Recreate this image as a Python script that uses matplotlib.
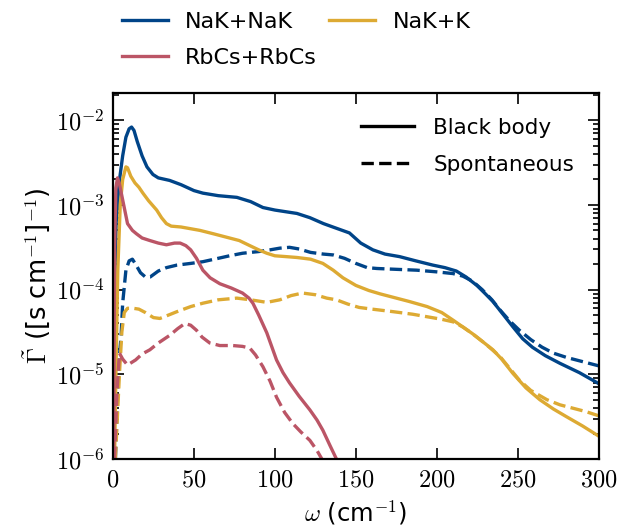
import matplotlib
matplotlib.use('Agg')
import matplotlib.pyplot as plt
import numpy as np
from matplotlib.lines import Line2D
from matplotlib.ticker import FuncFormatter, LogLocator, MultipleLocator

plt.rcParams['font.family'] = ['DejaVu Sans']
plt.rcParams['mathtext.fontset'] = 'cm'
plt.rcParams['font.size'] = 16

# ---- data (omega in cm^-1, log10 of rate) ----
nak_bb_w = [1, 2, 4, 6, 8, 10, 11.5, 13, 15, 18, 21, 24.7, 28, 35, 42, 50, 55.5, 65, 76.5, 85,
            92.6, 100, 113.6, 121.6, 130, 135.8, 146, 153, 160.5, 168, 177, 187, 197.5, 205, 212,
            218, 224.7, 230, 234.6, 240, 247, 253, 259, 267, 276, 288, 300]
nak_bb_log = [-4.0, -3.2, -2.71, -2.42, -2.2, -2.1, -2.08, -2.12, -2.25, -2.42, -2.55, -2.64, -2.68,
              -2.71, -2.76, -2.83, -2.86, -2.89, -2.91, -2.96, -3.03, -3.06, -3.10, -3.15, -3.22,
              -3.26, -3.33, -3.45, -3.53, -3.58, -3.61, -3.66, -3.71, -3.74, -3.78, -3.85, -3.95,
              -4.05, -4.14, -4.27, -4.44, -4.58, -4.68, -4.78, -4.87, -4.98, -5.11]

nak_sp_w = [1.5, 3, 4.3, 5, 6, 8, 10, 12, 14, 17, 20, 23, 28, 33, 39.5, 48, 55.5, 65, 72, 80, 90, 97,
            103, 109, 115, 122, 130, 136, 143, 150, 157, 163, 175, 187.6, 200, 210, 216, 222, 228,
            234, 239, 245, 251, 258, 265, 272, 280, 290, 300]
nak_sp_log = [-6.0, -5.2, -4.71, -4.56, -4.16, -3.77, -3.66, -3.64, -3.70, -3.80, -3.85, -3.85, -3.78,
              -3.74, -3.71, -3.69, -3.67, -3.63, -3.60, -3.57, -3.55, -3.53, -3.51, -3.50, -3.52,
              -3.56, -3.58, -3.59, -3.63, -3.69, -3.74, -3.75, -3.76, -3.77, -3.79, -3.81, -3.84,
              -3.90, -4.0, -4.12, -4.24, -4.37, -4.48, -4.59, -4.68, -4.75, -4.80, -4.85, -4.90]

nakk_bb_w = [1, 2, 3, 4.5, 6, 8, 9, 11, 13.6, 16, 18.5, 22, 27, 30, 33, 36, 42, 53.7, 62, 70, 78, 84.5,
             90, 95, 100, 107, 113.6, 122, 129.6, 136, 142, 150, 158, 165, 173, 183, 194, 203, 210,
             216, 222, 228, 234.6, 240, 247, 255, 263.6, 272, 280, 290, 300]
nakk_bb_log = [-6.0, -4.8, -3.77, -3.0, -2.7, -2.55, -2.56, -2.66, -2.74, -2.79, -2.86, -2.95, -3.06,
               -3.15, -3.22, -3.25, -3.26, -3.30, -3.34, -3.38, -3.42, -3.48, -3.53, -3.57, -3.60,
               -3.61, -3.62, -3.64, -3.69, -3.77, -3.86, -3.95, -4.01, -4.05, -4.09, -4.14, -4.20,
               -4.27, -4.36, -4.44, -4.52, -4.61, -4.71, -4.82, -4.99, -5.16, -5.30, -5.41, -5.50,
               -5.61, -5.73]

nakk_sp_w = [1.5, 2.5, 4, 5.5, 7, 9, 12.5, 16, 20, 25, 29, 33, 39.5, 48, 55.5, 65, 76.5, 85, 95, 103,
             110, 117, 125, 132, 138, 145, 152, 160, 173, 185, 194, 203, 210, 216, 222, 230, 239,
             245, 251, 258, 268, 276, 284, 292, 300]
nakk_sp_log = [-6.0, -5.6, -5.0, -4.5, -4.27, -4.22, -4.22, -4.23, -4.27, -4.33, -4.34, -4.31, -4.26,
               -4.20, -4.16, -4.12, -4.10, -4.12, -4.15, -4.12, -4.07, -4.04, -4.06, -4.10, -4.12,
               -4.17, -4.21, -4.23, -4.26, -4.29, -4.32, -4.35, -4.38, -4.44, -4.52, -4.64, -4.79,
               -4.93, -5.07, -5.19, -5.30, -5.36, -5.40, -5.44, -5.49]

rbcs_bb_w = [0.5, 1, 1.8, 2.8, 4, 6, 9, 12, 14.5, 18, 22.8, 28, 33, 38, 41.5, 45, 48, 51.6, 55.5, 60,
             66, 73, 80, 84, 86.4, 90, 95, 101, 105, 109, 115, 121.6, 126, 129.6, 134, 138]
rbcs_bb_log = [-6.0, -3.5, -2.8, -2.68, -2.75, -2.94, -3.22, -3.30, -3.34, -3.39, -3.42, -3.45, -3.47,
               -3.45, -3.45, -3.48, -3.53, -3.63, -3.77, -3.86, -3.93, -3.98, -4.04, -4.10, -4.16,
               -4.30, -4.51, -4.83, -4.98, -5.10, -5.26, -5.42, -5.54, -5.66, -5.84, -6.0]

rbcs_sp_w = [1, 2.5, 4, 6, 9, 14, 18, 22.8, 28, 35, 40, 44.4, 48, 51.6, 55, 59.8, 66, 74, 80, 84.5, 88,
             92.6, 97, 101, 106, 111, 116, 121.6, 126, 129]
rbcs_sp_log = [-6.0, -5.2, -4.75, -4.82, -4.89, -4.83, -4.76, -4.71, -4.63, -4.54, -4.46, -4.40, -4.42,
               -4.48, -4.56, -4.63, -4.66, -4.66, -4.67, -4.69, -4.77, -4.91, -5.08, -5.27, -5.45,
               -5.58, -5.68, -5.78, -5.90, -6.0]

C_BLUE = '#004488'
C_YELLOW = '#DDAA33'
C_RED = '#BB5566'
LW = 2.4

fig = plt.figure(figsize=(6.31, 5.27), dpi=100)
ax = fig.add_axes([0.179, 0.129, 0.770, 0.6945])

def p(w, lg, c, ls):
    ax.plot(w, 10.0 ** np.array(lg), color=c, ls=ls, lw=LW)

p(nak_bb_w, nak_bb_log, C_BLUE, '-')
p(nak_sp_w, nak_sp_log, C_BLUE, '--')
p(nakk_bb_w, nakk_bb_log, C_YELLOW, '-')
p(nakk_sp_w, nakk_sp_log, C_YELLOW, '--')
p(rbcs_bb_w, rbcs_bb_log, C_RED, '-')
p(rbcs_sp_w, rbcs_sp_log, C_RED, '--')

ax.set_yscale('log')
ax.set_xlim(0, 300)
ax.set_ylim(1e-6, 2.1e-2)
ax.xaxis.set_major_locator(MultipleLocator(50))
ax.xaxis.set_major_formatter(FuncFormatter(lambda v, pos: r'$%d$' % round(v)))
ax.yaxis.set_major_locator(LogLocator(base=10, numticks=10))
ax.yaxis.set_minor_locator(LogLocator(base=10, subs=np.arange(2, 10), numticks=10))
ax.yaxis.set_major_formatter(FuncFormatter(lambda v, pos: r'$10^{%d}$' % round(np.log10(v))))
ax.tick_params(which='both', direction='in', top=True, right=True, width=1.2)
ax.tick_params(which='major', length=8, labelsize=17.5, pad=6)
ax.tick_params(which='minor', length=4)
for s in ax.spines.values():
    s.set_linewidth(1.6)

ax.set_xlabel(r'$\omega$ (cm$^{-1}$)', fontsize=17.5, labelpad=5)
ax.set_ylabel(r'$\tilde{\Gamma}$ ([s cm$^{-1}$]$^{-1}$)', fontsize=18.5, labelpad=2)

h1 = [Line2D([], [], color=C_BLUE, lw=LW), Line2D([], [], color=C_RED, lw=LW),
      Line2D([], [], color=C_YELLOW, lw=LW)]
fig.legend(h1, ['NaK+NaK', 'RbCs+RbCs', 'NaK+K'], ncol=2, loc='upper left',
           bbox_to_anchor=(0.162, 1.015), frameon=False, handlelength=2.07, fontsize=16,
           handletextpad=0.77, columnspacing=0.55, labelspacing=0.7)

h2 = [Line2D([], [], color='k', lw=LW, ls='-'), Line2D([], [], color='k', lw=LW, ls='--')]
ax.legend(h2, ['Black body', 'Spontaneous'], loc='upper right', frameon=False, fontsize=15.5,
          handlelength=2.46, handletextpad=0.9, labelspacing=0.8, borderaxespad=0.75)

fig.savefig('out.png', dpi=100)
